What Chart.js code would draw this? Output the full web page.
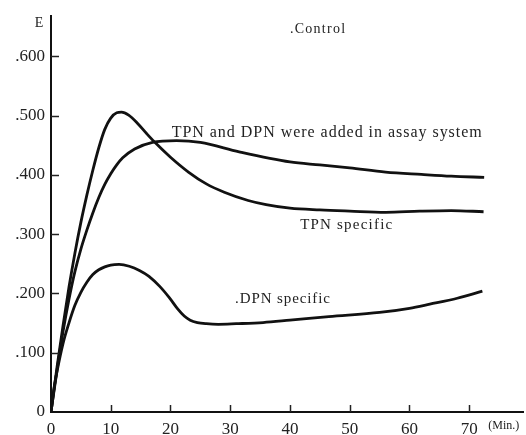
<!DOCTYPE html>
<html><head><meta charset="utf-8">
<script src="https://cdn.jsdelivr.net/npm/chart.js@4/dist/chart.umd.min.js"></script>
<style>html,body{margin:0;padding:0;background:#fff}</style>
</head><body>
<canvas id="c" width="526" height="435"></canvas>
<script>
// Time (min) and extinction E for each curve
const bothTime   = [0, 1, 2, 3, 4, 5, 6, 7, 8, 9, 10, 11, 12, 14, 17, 21, 25, 31.5, 40, 45, 50, 56, 62, 67, 72.5];
const bothValues = [0, 0.07, 0.135, 0.19, 0.237, 0.275, 0.307, 0.336, 0.362, 0.384, 0.402, 0.417, 0.429, 0.444, 0.455, 0.458, 0.455, 0.439, 0.422, 0.417, 0.412, 0.405, 0.401, 0.398, 0.396];

const tpnTime   = [0, 1, 2, 3, 4, 5, 6, 7, 8, 9, 10, 11, 11.8, 13, 14.5, 16, 17.3, 20, 23, 26, 29, 33, 36, 40, 45, 50, 56, 61.7, 67, 72.4];
const tpnValues = [0, 0.075, 0.145, 0.21, 0.268, 0.32, 0.366, 0.408, 0.446, 0.477, 0.496, 0.505, 0.506, 0.501, 0.487, 0.47, 0.456, 0.43, 0.405, 0.385, 0.371, 0.357, 0.35, 0.344, 0.341, 0.339, 0.337, 0.339, 0.340, 0.338];

const dpnTime   = [0, 0.5, 1, 2, 3, 4, 5, 6, 7, 8, 9, 10, 11.4, 13.1, 14.8, 16.4, 18.2, 19.8, 21.2, 22.3, 23.3, 24.5, 26, 28, 31, 35.5, 40, 46.5, 55, 60, 63.4, 68, 72.2];
const dpnValues = [0, 0.04, 0.068, 0.115, 0.15, 0.18, 0.202, 0.219, 0.232, 0.24, 0.245, 0.248, 0.249, 0.246, 0.239, 0.229, 0.212, 0.193, 0.174, 0.162, 0.155, 0.151, 0.149, 0.148, 0.149, 0.151, 0.155, 0.161, 0.168, 0.175, 0.182, 0.192, 0.204];

const xTicks = [0, 10, 20, 30, 40, 50, 60, 70];
const yTicks = [0, 0.1, 0.2, 0.3, 0.4, 0.5, 0.6];

const labels = ['.Control', 'TPN and DPN were added in assay system', 'TPN specific', '.DPN specific'];
const labelX = [40, 20.2, 41.7, 30.8];
const labelY = [0.646, 0.472, 0.316, 0.191];

const FONT = "'Liberation Serif', 'DejaVu Serif', serif";
const labelStyle = [
  {size: 14, width: 55},
  {size: 16, width: 310},
  {size: 15, width: 92},
  {size: 15, width: 95}
];

function pts(t, v) { return t.map((x, i) => ({x: x, y: v[i]})); }

const lineStyle = {borderColor: '#111', borderWidth: 2.8, pointRadius: 0, fill: false,
  cubicInterpolationMode: 'monotone'};

const overlay = {
  id: 'overlay',
  afterDraw(chart) {
    const ctx = chart.ctx, xs = chart.scales.x, ys = chart.scales.y;
    ctx.save();
    ctx.strokeStyle = '#222';
    ctx.lineWidth = 1.5;
    yTicks.forEach(v => {
      if (v === 0) return;
      const py = Math.round(ys.getPixelForValue(v)) + 0.5;
      ctx.beginPath(); ctx.moveTo(xs.left, py); ctx.lineTo(xs.left + 8, py); ctx.stroke();
    });
    xTicks.forEach(t => {
      if (t === 0) return;
      const px = Math.round(xs.getPixelForValue(t)) + 0.5;
      ctx.beginPath(); ctx.moveTo(px, ys.bottom); ctx.lineTo(px, ys.bottom - 7); ctx.stroke();
    });
    ctx.fillStyle = '#222';
    ctx.textBaseline = 'middle';
    labels.forEach((txt, i) => {
      const st = labelStyle[i];
      ctx.font = st.size + 'px ' + FONT;
      ctx.letterSpacing = '0px';
      const w = ctx.measureText(txt).width;
      const sp = Math.max(0, (st.width - w) / (txt.length - 1));
      ctx.letterSpacing = sp.toFixed(2) + 'px';
      ctx.textAlign = 'left';
      ctx.fillText(txt, xs.getPixelForValue(labelX[i]), ys.getPixelForValue(labelY[i]));
    });
    ctx.letterSpacing = '0px';
    ctx.font = '14px ' + FONT;
    ctx.textAlign = 'center';
    ctx.fillText('E', xs.left - 12, ys.top + 7);
    ctx.font = '12px ' + FONT;
    ctx.textAlign = 'left';
    ctx.fillText('(Min.)', xs.getPixelForValue(70) + 19, ys.bottom + 14);
    ctx.restore();
  }
};

new Chart(document.getElementById('c'), {
  type: 'line',
  data: {
    datasets: [
      Object.assign({data: pts(bothTime, bothValues)}, lineStyle),
      Object.assign({data: pts(tpnTime, tpnValues)}, lineStyle),
      Object.assign({data: pts(dpnTime, dpnValues)}, lineStyle)
    ]
  },
  options: {
    responsive: false,
    animation: false,
    devicePixelRatio: 1,
    layout: {padding: {top: 13, right: 3, left: 0, bottom: 0}},
    plugins: {legend: {display: false}, tooltip: {enabled: false}},
    scales: {
      x: {
        type: 'linear', min: 0, max: 79,
        afterBuildTicks: s => { s.ticks = xTicks.map(v => ({value: v})); },
        afterFit: s => { s.height = 23; },
        grid: {display: true, drawOnChartArea: false, drawTicks: false},
        border: {display: true, color: '#111', width: 2},
        ticks: {color: '#222', padding: 7, maxRotation: 0, autoSkip: false,
          font: {family: FONT, size: 17}, callback: v => String(v)}
      },
      y: {
        type: 'linear', min: 0, max: 0.668,
        afterBuildTicks: s => { s.ticks = yTicks.map(v => ({value: v})); },
        afterFit: s => { s.width = 51; },
        grid: {display: true, drawOnChartArea: false, drawTicks: false},
        border: {display: true, color: '#111', width: 2},
        ticks: {color: '#222', padding: 6, autoSkip: false,
          font: {family: FONT, size: 17},
          callback: v => v === 0 ? '0' : '.' + String(Math.round(v * 1000)).padStart(3, '0')}
      }
    }
  },
  plugins: [overlay]
});
</script>
</body></html>
